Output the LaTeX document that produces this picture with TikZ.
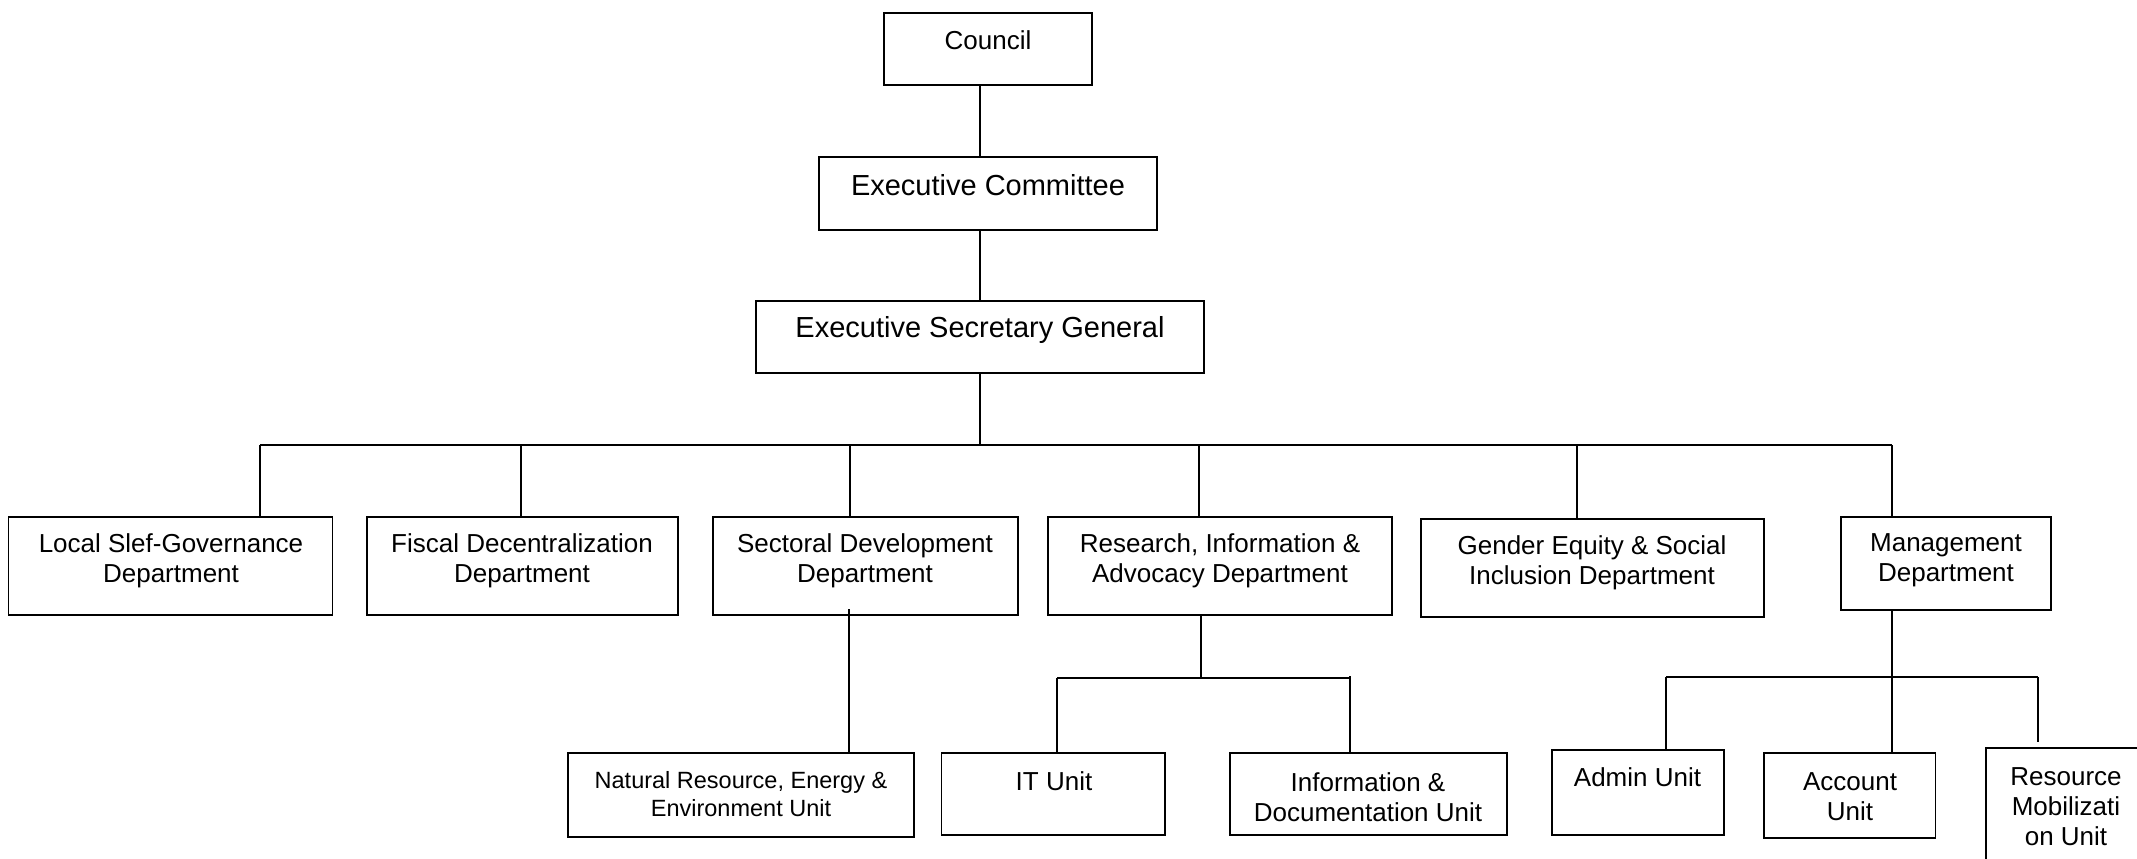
\documentclass[tikz,border=0pt]{standalone}
\usepackage{fontspec}
\setmainfont{Liberation Sans}
\begin{document}
\begin{tikzpicture}[x=1pt,y=-1pt,
  box/.style={draw=black,line width=1.5pt,rectangle,inner sep=0pt},
  txt/.style={inner sep=0pt,align=center,font=\fontsize{26}{30}\selectfont},
  bigtxt/.style={inner sep=0pt,align=center,font=\fontsize{29}{33}\selectfont},
  smalltxt/.style={inner sep=0pt,align=center,font=\fontsize{23.5}{28}\selectfont},
  conn/.style={draw=black,line width=1.4pt}]
\useasboundingbox (0,0) rectangle (2137,859);
\clip (0,0) rectangle (2137,859);
\fill[white] (0,0) rectangle (2137,859);

% top boxes
\node[box,minimum width=208pt,minimum height=72pt] (council) at (988,49) {};
\node[box,minimum width=338pt,minimum height=73pt] (execcom) at (988,193.5) {};
\node[box,minimum width=448pt,minimum height=72pt] (esg) at (980,337) {};
% departments
\node[box,minimum width=324pt,minimum height=98pt] (lsg) at (170.5,566) {};
\node[box,minimum width=311pt,minimum height=98pt] (fd) at (522.5,566) {};
\node[box,minimum width=305pt,minimum height=98pt] (sd) at (865.5,566) {};
\node[box,minimum width=344pt,minimum height=98pt] (rad) at (1220,566) {};
\node[box,minimum width=343pt,minimum height=98pt] (ge) at (1592.5,568) {};
\node[box,minimum width=210pt,minimum height=93pt] (mgmt) at (1946,563.5) {};
% units
\node[box,minimum width=346pt,minimum height=84pt] (nre) at (741,795) {};
\node[box,minimum width=223.5pt,minimum height=82pt] (it) at (1053.25,794) {};
\node[box,minimum width=277pt,minimum height=82pt] (idu) at (1368.5,794) {};
\node[box,minimum width=172pt,minimum height=85pt] (admin) at (1638,792.5) {};
\node[box,minimum width=171.5pt,minimum height=85pt] (acct) at (1849.75,795.5) {};
\node[box,minimum width=174pt,minimum height=152pt] (rmu) at (2073,824) {};

% texts
\node[txt] (tcouncil) at (988,40) {Council};
\node[bigtxt] (texeccom) at (988,185) {Executive Committee};
\node[bigtxt] (tesg) at (980,330) {Executive Secretary General};
\node[txt] (tlsg) at (171,561) {Local Slef-Governance\\Department};
\node[txt] (tfd) at (522,561) {Fiscal Decentralization\\Department};
\node[txt] (tsd) at (865,561) {Sectoral Development\\Department};
\node[txt] (trad) at (1220,561) {Research, Information \&\\Advocacy Department};
\node[txt] (tge) at (1592,563) {Gender Equity \& Social\\Inclusion Department};
\node[txt] (tmgmt) at (1946,560) {Management\\Department};
\node[smalltxt] (tnre) at (741,794) {Natural Resource, Energy \&\\Environment Unit};
\node[txt] (tit) at (1054,781) {IT Unit};
\node[txt] (tidu) at (1368,797) {Information \&\\Documentation Unit};
\node[txt] (tadmin) at (1637.5,777) {Admin Unit};
\node[txt] (tacct) at (1850,797) {Account\\Unit};
\node[txt] (trmu) at (2066,807) {Resource\\Mobilizati\\on Unit};

% spine
\coordinate (spine) at (980,0);
\draw[conn] (spine |- council.south) -- (spine |- execcom.north);
\draw[conn] (spine |- execcom.south) -- (spine |- esg.north);
\coordinate (busL) at (260,445);
\coordinate (busR) at (1892,445);
\draw[conn] (spine |- esg.south) -- (spine |- busL);
\draw[conn] (busL) -- (busR);
\coordinate (b2) at (521,445);
\coordinate (b3) at (850,445);
\coordinate (b4) at (1199,445);
\coordinate (b5) at (1577,445);
\draw[conn] (busL) -- (busL |- lsg.north);
\draw[conn] (b2) -- (b2 |- fd.north);
\draw[conn] (b3) -- (b3 |- sd.north);
\draw[conn] (b4) -- (b4 |- rad.north);
\draw[conn] (b5) -- (b5 |- ge.north);
\draw[conn] (busR) -- (busR |- mgmt.north);

% sectoral -> NRE
\coordinate (s1) at (849,609.3);
\draw[conn] (s1) -- (s1 |- nre.north);

% research -> units
\coordinate (r0) at (1201,678);
\coordinate (r1) at (1057,678);
\coordinate (r2) at (1350,678);
\coordinate (r2top) at (1350,676);
\draw[conn] (r0 |- rad.south) -- (r0);
\draw[conn] (r1) -- (r2);
\draw[conn] (r1) -- (r1 |- it.north);
\draw[conn] (r2top) -- (r2 |- idu.north);

% management -> units
\coordinate (m0) at (1892,677);
\coordinate (m1) at (1666,677);
\coordinate (m3) at (2038,677);
\coordinate (m3end) at (2038,742);
\draw[conn] (m0 |- mgmt.south) -- (m0 |- acct.north);
\draw[conn] (m1) -- (m3);
\draw[conn] (m1) -- (m1 |- admin.north);
\draw[conn] (m3) -- (m3end);
\end{tikzpicture}
\end{document}
